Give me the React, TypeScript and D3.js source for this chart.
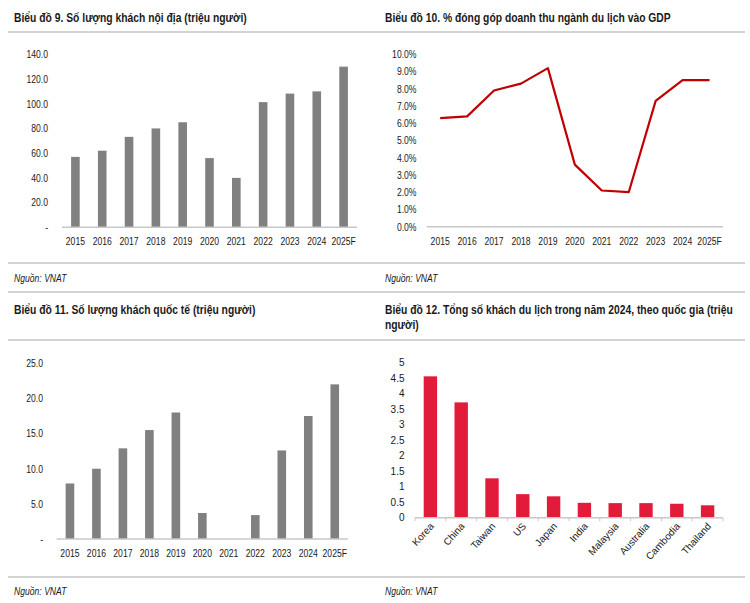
import * as d3 from "d3";
import { useEffect, useRef } from "react";

const YEARS = ["2015", "2016", "2017", "2018", "2019", "2020", "2021", "2022", "2023", "2024", "2025F"];
const DOMESTIC = [57, 62, 73.2, 80, 85, 56, 40, 101.3, 108.2, 110, 130];
const GDP_SHARE = [0.063, 0.064, 0.079, 0.083, 0.092, 0.036, 0.021, 0.02, 0.073, 0.085, 0.085];
const INTERNATIONAL = [7.9, 10.0, 12.9, 15.5, 18.0, 3.7, 0.0, 3.4, 12.6, 17.5, 22.0];
const COUNTRIES = ["Korea", "China", "Taiwan", "US", "Japan", "India", "Malaysia", "Australia", "Cambodia", "Thailand"];
const COUNTRY_VISITORS = [4.56, 3.72, 1.27, 0.76, 0.69, 0.48, 0.47, 0.47, 0.45, 0.4];

const TITLES = [
  "Biểu đồ 9. Số lượng khách nội địa (triệu người)",
  "Biểu đồ 10. % đóng góp doanh thu ngành du lịch vào GDP",
  "Biểu đồ 11. Số lượng khách quốc tế (triệu người)",
  "Biểu đồ 12. Tổng số khách du lịch trong năm 2024, theo quốc gia (triệu",
];
const SOURCE = "Nguồn: VNAT";

const SANS = "'Liberation Sans', Arial, sans-serif";
const TEXT = "#1a1a1a";
const RULE = "#c4c4c4";
const AXIS = "#c8c8c8";
// no Arial Narrow installed: squeeze Liberation Sans horizontally instead
const NARROW = 0.82;

export default function App() {
  const ref = useRef<SVGSVGElement>(null);

  useEffect(() => {
    const svg = d3.select(ref.current);
    svg.selectAll("*").remove();

    // separators across the page
    [32, 263, 292, 340, 577].forEach((y) => {
      svg.append("line").attr("x1", 8).attr("x2", 745).attr("y1", y).attr("y2", y)
        .attr("stroke", RULE).attr("stroke-width", 1.5);
    });

    const narrowText = (x: number, y: number, t: string, size: number, anchor = "start") =>
      svg.append("text")
        .attr("transform", `translate(${x},${y}) scale(${NARROW},1)`)
        .attr("text-anchor", anchor)
        .attr("font-family", SANS).attr("font-size", size).attr("fill", TEXT)
        .text(t);

    const title = (x: number, y: number, t: string) =>
      narrowText(x, y, t, 12.6).attr("font-weight", "bold");
    title(14, 22, TITLES[0]);
    title(385, 22, TITLES[1]);
    title(14, 314, TITLES[2]);
    title(385, 314, TITLES[3]);
    title(385, 329, "người)");

    const source = (x: number, y: number) =>
      narrowText(x, y, SOURCE, 10.5).attr("font-style", "italic");
    source(14, 282);
    source(385, 282);
    source(14, 595);
    source(385, 595);

    const yLabels = (y: d3.ScaleLinear<number, number>, ticks: number[], fmt: (v: number) => string, x: number) => {
      ticks.forEach((d) => narrowText(x, y(d) + 3.8, fmt(d), 10.5, "end"));
    };
    const xLabels = (x: d3.ScaleBand<string>, y: number) => {
      YEARS.forEach((d) => narrowText(x(d)! + x.bandwidth() / 2, y, d, 10.5, "middle"));
    };
    const baseline = (x0: number, x1: number, y: number) =>
      svg.append("line").attr("x1", x0).attr("x2", x1).attr("y1", y).attr("y2", y)
        .attr("stroke", AXIS).attr("stroke-width", 1.5);

    const dash = (fmt: (v: number) => string) => (v: number) => (v === 0 ? "-" : fmt(v));

    // chart 9: domestic visitors
    {
      const x = d3.scaleBand<string>().domain(YEARS).range([62, 357]);
      const y = d3.scaleLinear().domain([0, 140]).range([227.3, 54.3]);
      yLabels(y, d3.range(0, 141, 20), dash(d3.format(".1f")), 48);
      const bw = 8.6;
      svg.append("g").selectAll("rect").data(DOMESTIC).join("rect")
        .attr("x", (_, i) => x(YEARS[i])! + x.bandwidth() / 2 - bw / 2)
        .attr("width", bw)
        .attr("y", (d) => y(d)).attr("height", (d) => y(0) - y(d))
        .attr("fill", "#808080");
      baseline(62, 357, y(0));
      xLabels(x, 244.5);
    }

    // chart 10: share of GDP
    {
      const x = d3.scaleBand<string>().domain(YEARS).range([426.7, 723]);
      const y = d3.scaleLinear().domain([0, 0.1]).range([226.7, 54.3]);
      yLabels(y, d3.range(0, 11).map((i) => i / 100), d3.format(".1%"), 416.5);
      baseline(426.7, 723, y(0));
      const line = d3.line<number>()
        .x((_, i) => x(YEARS[i])! + x.bandwidth() / 2)
        .y((d) => y(d));
      svg.append("path").attr("d", line(GDP_SHARE) ?? "")
        .attr("fill", "none").attr("stroke", "#c00000").attr("stroke-width", 2.2)
        .attr("stroke-linejoin", "round");
      xLabels(x, 244.5);
    }

    // chart 11: international visitors
    {
      const x = d3.scaleBand<string>().domain(YEARS).range([56.7, 348]);
      const y = d3.scaleLinear().domain([0, 25]).range([539, 363.3]);
      yLabels(y, d3.range(0, 26, 5), dash(d3.format(".1f")), 43);
      const bw = 8.6;
      svg.append("g").selectAll("rect").data(INTERNATIONAL).join("rect")
        .attr("x", (_, i) => x(YEARS[i])! + x.bandwidth() / 2 - bw / 2)
        .attr("width", bw)
        .attr("y", (d) => y(d)).attr("height", (d) => y(0) - y(d))
        .attr("fill", "#808080");
      baseline(56.7, 348, y(0));
      xLabels(x, 556.5);
    }

    // chart 12: visitors by country
    {
      const x = d3.scaleBand<string>().domain(COUNTRIES).range([415, 723]);
      const y = d3.scaleLinear().domain([0, 5]).range([517.7, 362.7]);
      d3.range(0, 11).map((i) => i / 2).forEach((v) => {
        svg.append("text").attr("x", 404.5).attr("y", y(v) + 3.6).attr("text-anchor", "end")
          .attr("font-family", SANS).attr("font-size", 10).attr("fill", TEXT).text(String(v));
      });
      const bw = 13.4;
      svg.append("g").selectAll("rect").data(COUNTRY_VISITORS).join("rect")
        .attr("x", (_, i) => x(COUNTRIES[i])! + x.bandwidth() / 2 - bw / 2)
        .attr("width", bw)
        .attr("y", (d) => y(d)).attr("height", (d) => y(0) - y(d))
        .attr("fill", "#e31b3b");
      baseline(415, 723, y(0));
      const edges = [...COUNTRIES.map((c) => x(c)!), 723];
      svg.append("g").selectAll("line").data(edges).join("line")
        .attr("x1", (d) => d).attr("x2", (d) => d)
        .attr("y1", y(0)).attr("y2", y(0) + 3.5)
        .attr("stroke", AXIS).attr("stroke-width", 1);
      svg.append("g").selectAll("text").data(COUNTRIES).join("text")
        .attr("transform", (d) => `translate(${x(d)! + x.bandwidth() / 2 + 4},${y(0) + 9}) rotate(-48)`)
        .attr("text-anchor", "end")
        .attr("font-family", SANS).attr("font-size", 10).attr("fill", TEXT)
        .text((d) => d);
    }
  }, []);

  return (
    <svg
      ref={ref}
      width={750}
      height={603}
      style={{ position: "absolute", left: 0, top: 0, background: "#fff" }}
    />
  );
}
